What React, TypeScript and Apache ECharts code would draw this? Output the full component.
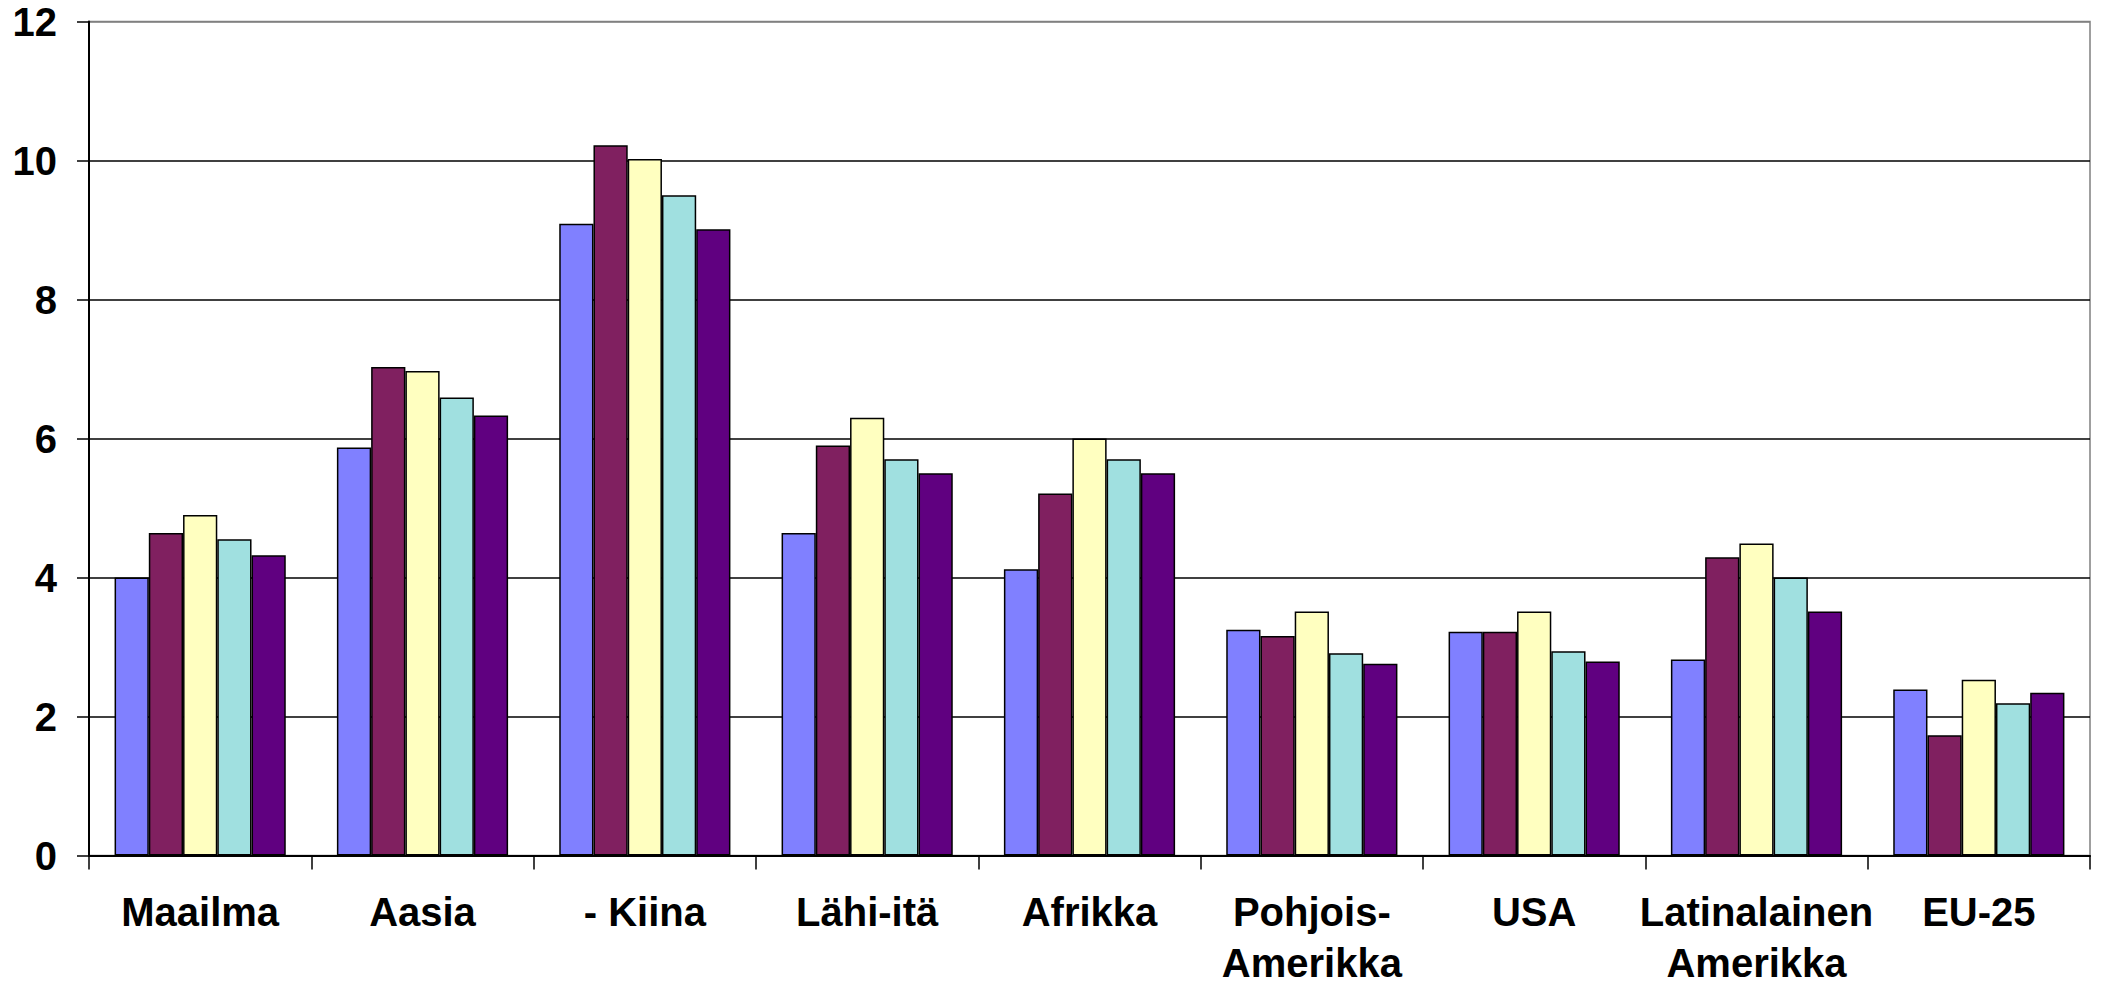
import React, { useEffect, useRef } from "react";
import * as echarts from "echarts";

const categories = [
  "Maailma",
  "Aasia",
  "- Kiina",
  "Lähi-itä",
  "Afrikka",
  "Pohjois-\nAmerikka",
  "USA",
  "Latinalainen\nAmerikka",
  "EU-25",
];

const seriesNames = ["Sarja1", "Sarja2", "Sarja3", "Sarja4", "Sarja5"];
const series1 = [4.0, 5.87, 9.09, 4.64, 4.12, 3.25, 3.22, 2.82, 2.39];
const series2 = [4.64, 7.03, 10.22, 5.9, 5.21, 3.16, 3.22, 4.29, 1.73];
const series3 = [4.9, 6.97, 10.02, 6.3, 6.0, 3.51, 3.51, 4.49, 2.53];
const series4 = [4.55, 6.59, 9.5, 5.7, 5.7, 2.91, 2.94, 4.0, 2.19];
const series5 = [4.32, 6.33, 9.01, 5.5, 5.5, 2.76, 2.79, 3.51, 2.34];
const seriesColors = ["#8080FF", "#802060", "#FFFFC0", "#A0E0E0", "#600080"];

const yMin = 0;
const yMax = 12;
const yInterval = 2;

export default function App() {
  const ref = useRef<HTMLDivElement>(null);

  useEffect(() => {
    if (!ref.current) return;
    const chart = echarts.init(ref.current, null, { renderer: "svg" });
    const data = [series1, series2, series3, series4, series5];
    chart.setOption({
      animation: false,
      backgroundColor: "#ffffff",
      textStyle: { fontFamily: "Liberation Sans" },
      grid: {
        left: 89,
        right: 15,
        top: 21.5,
        bottom: 132.5,
        containLabel: false,
        outerBoundsMode: "none",
        show: true,
        borderColor: "#808080",
        borderWidth: 1.5,
        backgroundColor: "#ffffff",
      },
      xAxis: {
        type: "category",
        data: categories,
        axisLine: { show: true, lineStyle: { color: "#000", width: 2 } },
        axisTick: {
          show: true,
          length: 14,
          inside: false,
          alignWithLabel: false,
          lineStyle: { color: "#000", width: 1.5 },
        },
        axisLabel: {
          interval: 0,
          margin: 31,
          color: "#000",
          fontFamily: "Liberation Sans",
          fontWeight: "bold",
          fontSize: 40,
          lineHeight: 51,
        },
        splitLine: { show: false },
      },
      yAxis: {
        type: "value",
        min: yMin,
        max: yMax,
        interval: yInterval,
        axisLine: { show: true, lineStyle: { color: "#000", width: 2 } },
        axisTick: {
          show: true,
          length: 12,
          inside: false,
          lineStyle: { color: "#000", width: 1.5 },
        },
        axisLabel: {
          margin: 32,
          color: "#000",
          fontFamily: "Liberation Sans",
          fontWeight: "bold",
          fontSize: 40,
        },
        splitLine: {
          show: true,
          lineStyle: {
            color: ["#000", "#000", "#000", "#000", "#000", "#000", "#808080"],
            width: 1.5,
          },
        },
      },
      series: data.map((d, i) => ({
        name: seriesNames[i],
        type: "bar",
        data: d,
        barGap: "0%",
        barCategoryGap: "23%",
        itemStyle: {
          color: seriesColors[i],
          borderColor: "#000",
          borderWidth: 1.5,
        },
      })),
    });
    return () => chart.dispose();
  }, []);

  return (
    <div
      ref={ref}
      style={{ position: "fixed", left: 0, top: 0, width: 2105, height: 988 }}
    />
  );
}
